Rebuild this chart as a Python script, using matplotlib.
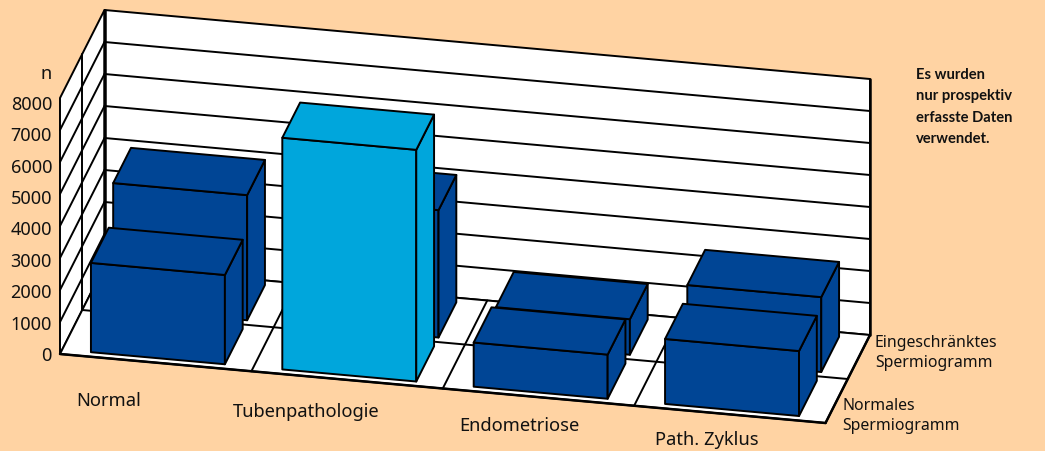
import matplotlib
matplotlib.use('Agg')
import matplotlib.pyplot as plt
from matplotlib.patches import Polygon

# values
categories = ['Normal', 'Tubenpathologie', 'Endometriose', 'Path. Zyklus']
normales = [2790, 7240, 1380, 2030]
eingeschraenkt = [3910, 3980, 1110, 2340]
y_ticks = [0, 1000, 2000, 3000, 4000, 5000, 6000, 7000, 8000]
series_labels = ['Normales\nSpermiogramm', 'Eingeschränktes\nSpermiogramm']
note = 'Es wurden\nnur prospektiv\nerfasste Daten\nverwendet.'

BG = '#FFD3A3'
DARK = '#004595'
LIGHT = '#00A6DC'
LW = 1.4
HEAVY = 1.8
FONT = 'Noto Sans'
TEXT = '#111111'

# oblique projection, pixels of the image
X0, Y0 = 60, 355
DX, DY = 765.5, 69
ZX, ZY = 44.5, -88
PER_UNIT = 32 / 1000


def proj(u, d, v=0):
    return (X0 + DX * u + ZX * d, Y0 + DY * u + ZY * d - PER_UNIT * v)


def face(ax, pts, color, z):
    ax.add_patch(Polygon(pts, closed=True, facecolor=color, edgecolor='black',
                         linewidth=LW, joinstyle='round', zorder=z))


def bar(ax, cat, row, value, color, z):
    u0 = (cat + 0.15) / 4
    u1 = (cat + 0.85) / 4
    d0 = (row + 0.1) / 2
    d1 = (row + 0.9) / 2
    face(ax, [proj(u0, d0), proj(u1, d0), proj(u1, d0, value), proj(u0, d0, value)], color, z)
    face(ax, [proj(u1, d0), proj(u1, d1), proj(u1, d1, value), proj(u1, d0, value)], color, z)
    face(ax, [proj(u0, d0, value), proj(u1, d0, value), proj(u1, d1, value), proj(u0, d1, value)], color, z)


def line(ax, a, b, lw=LW, z=2):
    ax.plot([a[0], b[0]], [a[1], b[1]], color='black', lw=lw, zorder=z,
            solid_capstyle='round')


fig = plt.figure(figsize=(10.45, 4.52), dpi=100, facecolor=BG)
ax = fig.add_axes([0, 0, 1, 1])
ax.set_xlim(0, 1045)
ax.set_ylim(452, 0)
ax.axis('off')

top = y_ticks[-1]
# walls and floor
face(ax, [proj(0, 0), proj(0, 1), proj(0, 1, top), proj(0, 0, top)], 'white', 1)
face(ax, [proj(0, 1), proj(1, 1), proj(1, 1, top), proj(0, 1, top)], 'white', 1)
face(ax, [proj(0, 0), proj(1, 0), proj(1, 1), proj(0, 1)], 'white', 1)

for v in y_ticks[1:-1]:
    line(ax, proj(0, 0, v), proj(0, 1, v))
    line(ax, proj(0, 1, v), proj(1, 1, v))
line(ax, proj(0, 0.5), proj(0, 0.5, top))
line(ax, proj(0, 0.5), proj(1, 0.5))
for i in range(1, len(categories)):
    line(ax, proj(i / 4, 0), proj(i / 4, 1))
# heavier edges of the box
line(ax, proj(0, 1), proj(0, 1, top), lw=HEAVY, z=3)
line(ax, proj(1, 1), proj(1, 1, top), lw=HEAVY, z=3)
line(ax, proj(0, 0), proj(1, 0), lw=HEAVY, z=3)
line(ax, proj(1, 0), proj(1, 1), lw=HEAVY, z=3)

# back row first, the front row hides it
for i, v in enumerate(eingeschraenkt):
    bar(ax, i, 1, v, DARK, 4 + i * 0.1)
for i, v in enumerate(normales):
    bar(ax, i, 0, v, LIGHT if i == 1 else DARK, 5 + i * 0.1)

for k, v in enumerate(y_ticks):
    ax.text(52, 356 - 31.4 * k, str(v), ha='right', va='center', family=FONT,
            color=TEXT, fontsize=13)
ax.text(52, 74, 'n', ha='right', va='center', family=FONT, color=TEXT, fontsize=13)

label_x = [76, 233, 459, 655]
label_y = [401, 412, 426, 440]
for name, x, y in zip(categories, label_x, label_y):
    ax.text(x, y, name, ha='left', va='center', family=FONT, color=TEXT, fontsize=13.2)

ax.text(842, 416, series_labels[0], ha='left', va='center', family=FONT, color=TEXT,
        fontsize=11.4, linespacing=1.4)
ax.text(875, 353, series_labels[1], ha='left', va='center', family=FONT, color=TEXT,
        fontsize=11.4, linespacing=1.4)
ax.text(916, 107, note, ha='left', va='center', family='Lato', color=TEXT, fontsize=10.6,
        fontweight='bold', linespacing=1.65)

fig.savefig('out.png', dpi=100, facecolor=BG)
